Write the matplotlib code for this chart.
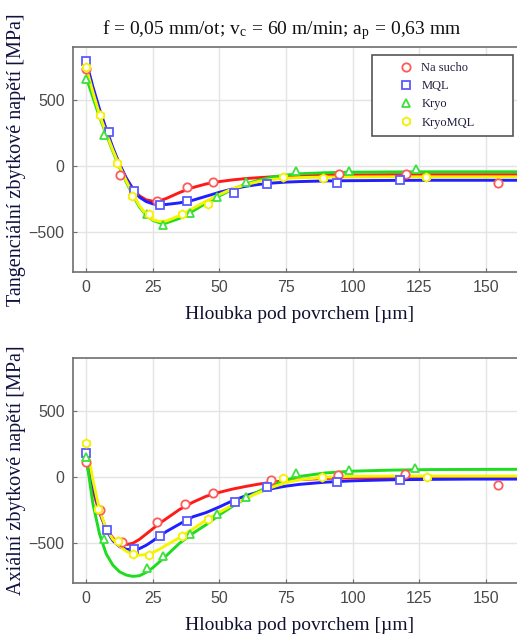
import matplotlib
matplotlib.use("Agg")
import matplotlib.pyplot as plt
from matplotlib.lines import Line2D

SERIES = ["Na sucho", "MQL", "Kryo", "KryoMQL"]
LINE_COLORS = ["#ff1a1a", "#1f1fff", "#1edc1e", "#f5f500"]
MARKER_COLORS = ["#ff5a5a", "#5a5aff", "#3ee03e", "#f5f000"]
MARKERS = ["o", "s", "^", "h"]

TITLE = "f = 0,05 mm/ot; v$_\\mathregular{c}$ = 60 m/min; a$_\\mathregular{p}$ = 0,63 mm"
XLABEL = "Hloubka pod povrchem [\u00b5m]"
YLABEL_TOP = "Tangenciální zbytkové napětí [MPa]"
YLABEL_BOTTOM = "Axiální zbytkové napětí [MPa]"

# depth grid of the fitted curves
FIT_DEPTH = [0, 2.5, 5, 7.5, 10, 12.5, 15, 17.5, 20, 22.5, 25, 27.5, 30, 35, 40, 45,
             50, 55, 60, 65, 70, 75, 80, 90, 100, 115, 130, 145, 162]

# --- tangential stress, fitted curves ---
tan_fit_dry = [740, 565, 400, 255, 125, 10, -90, -170, -225, -255, -265, -262, -245, -200, -162, -135,
               -117, -104, -94, -87, -81, -77, -73, -69, -67, -65, -65, -65, -65]
tan_fit_mql = [790, 600, 430, 280, 140, 15, -90, -175, -235, -268, -285, -292, -290, -278, -258, -228,
               -198, -172, -152, -138, -128, -121, -117, -112, -110, -108, -107, -107, -107]
tan_fit_kryo = [670, 520, 370, 240, 110, -10, -120, -220, -310, -370, -410, -428, -430, -395, -340, -280,
                -225, -175, -135, -105, -82, -68, -58, -50, -46, -44, -43, -43, -43]
tan_fit_kryomql = [745, 560, 390, 250, 120, 0, -110, -210, -300, -365, -405, -418, -415, -375, -320, -265,
                   -215, -170, -140, -115, -100, -92, -87, -83, -82, -81, -81, -81, -81]

# --- tangential stress, measured points ---
tan_x_dry = [0, 12.5, 26.5, 37.8, 47.7, 95, 120, 154.5]
tan_y_dry = [735, -70, -263, -158, -121, -63, -60, -127]
tan_x_mql = [0, 8.4, 17.75, 27.75, 37.8, 55.6, 67.7, 94, 117.7]
tan_y_mql = [796, 260, -186, -296, -260, -205, -137, -130, -107]
tan_x_kryo = [0, 6.5, 22.75, 29, 39, 49, 60, 78.8, 98.6, 123.8]
tan_y_kryo = [660, 235, -365, -446, -352, -232, -122, -36, -36, -25]
tan_x_kryomql = [0, 5.25, 11.5, 17.3, 23.4, 35.9, 45.9, 73.8, 88.7, 127.7]
tan_y_kryomql = [745, 388, 20, -228, -360, -361, -285, -81, -92, -81]

# --- axial stress, fitted curves ---
ax_fit_dry = [120, -100, -270, -390, -460, -500, -510, -500, -470, -430, -390, -350, -315, -245, -190, -145,
              -115, -90, -70, -52, -38, -27, -19, -10, -5, -3, -2, -2, -2]
ax_fit_mql = [180, -60, -260, -400, -480, -525, -545, -550, -540, -515, -482, -447, -412, -355, -300, -268,
              -225, -178, -140, -110, -86, -68, -55, -38, -28, -20, -17, -15, -15]
ax_fit_kryo = [150, -200, -430, -580, -665, -715, -740, -750, -745, -720, -685, -640, -595, -500, -425, -360,
               -285, -220, -160, -105, -58, -22, 5, 32, 45, 53, 57, 58, 59]
ax_fit_kryomql = [260, -20, -250, -390, -470, -520, -560, -580, -590, -585, -570, -545, -515, -458, -392, -325,
                  -265, -210, -160, -115, -75, -42, -20, 0, 6, 8, 8, 8, 8]

# --- axial stress, measured points ---
ax_x_dry = [0, 5, 13.5, 26.5, 37.1, 47.7, 69.5, 94.5, 119.6, 154.6]
ax_y_dry = [115, -250, -490, -341, -201, -120, -23, 15, 20, -61]
ax_x_mql = [0, 7.75, 17.75, 27.75, 38, 56, 67.75, 94, 117.75]
ax_y_mql = [185, -400, -545, -443, -328, -190, -74, -36, -23]
ax_x_kryo = [0, 6.5, 22.75, 29, 39, 49, 60, 78.75, 98.6, 123.6]
ax_y_kryo = [150, -465, -685, -593, -430, -278, -152, 28, 53, 66]
ax_x_kryomql = [0, 4.6, 12.1, 17.5, 23.75, 35.9, 45.9, 73.75, 88.4, 127.75]
ax_y_kryomql = [258, -240, -480, -581, -586, -443, -316, -10, 3, 3]


def draw_panel(ax, fits, points, ylabel):
    for fit, color in zip(fits, LINE_COLORS):
        ax.plot(FIT_DEPTH, fit, color=color, lw=2.1, zorder=2)
    for (xs, ys), color, marker in zip(points, MARKER_COLORS, MARKERS):
        ax.plot(xs, ys, linestyle="none", marker=marker, markersize=6, markerfacecolor="white",
                markeredgecolor=color, markeredgewidth=1.3, zorder=3)
    ax.set_xlim(-5, 165)
    ax.set_ylim(-800, 900)
    ax.set_xticks([0, 25, 50, 75, 100, 125, 150])
    ax.set_yticks([-500, 0, 500])
    ax.grid(True, color="#e4e4e4", lw=1.0)
    ax.set_axisbelow(True)
    for side in ["left", "bottom", "top"]:
        ax.spines[side].set_color("#6e6e6e")
        ax.spines[side].set_linewidth(1.2)
    ax.spines["right"].set_visible(False)
    ax.tick_params(direction="in", length=3, colors="#6e6e6e", labelcolor="#4a4a4a",
                   labelsize=11.5, pad=6)
    for lbl in ax.get_xticklabels() + ax.get_yticklabels():
        lbl.set_family("Liberation Sans")
    ax.set_xlabel(XLABEL, family="Liberation Serif", fontsize=14, color="#101030", labelpad=8)
    ax.set_ylabel(ylabel, family="Liberation Serif", fontsize=14.5, color="#101040", labelpad=2)


plt.rcParams["mathtext.fontset"] = "stix"

fig = plt.figure(figsize=(5.17, 6.41), dpi=100)
ax_top = fig.add_axes([0.141, 0.5757, 0.876, 0.351])
ax_bot = fig.add_axes([0.141, 0.0905, 0.876, 0.351])

draw_panel(ax_top,
           [tan_fit_dry, tan_fit_mql, tan_fit_kryo, tan_fit_kryomql],
           [(tan_x_dry, tan_y_dry), (tan_x_mql, tan_y_mql),
            (tan_x_kryo, tan_y_kryo), (tan_x_kryomql, tan_y_kryomql)],
           YLABEL_TOP)
draw_panel(ax_bot,
           [ax_fit_dry, ax_fit_mql, ax_fit_kryo, ax_fit_kryomql],
           [(ax_x_dry, ax_y_dry), (ax_x_mql, ax_y_mql),
            (ax_x_kryo, ax_y_kryo), (ax_x_kryomql, ax_y_kryomql)],
           YLABEL_BOTTOM)

ax_top.set_title(TITLE, family="Liberation Serif", fontsize=14, color="#101010", pad=9, x=0.46)

handles = [Line2D([], [], linestyle="none", marker=m, markersize=6, markerfacecolor="white",
                  markeredgecolor=c, markeredgewidth=1.3)
           for m, c in zip(MARKERS, MARKER_COLORS)]
leg = ax_top.legend(handles, SERIES, loc="upper left",
                    bbox_to_anchor=(372 / 517, 1 - 55 / 641, 141 / 517, 0.0),
                    bbox_transform=fig.transFigure, mode="expand", borderaxespad=0,
                    handlelength=4.4, handletextpad=-1.0, borderpad=0.55, labelspacing=0.5,
                    fancybox=False, framealpha=1,
                    prop={"family": "Liberation Serif", "size": 9})
leg.get_frame().set_edgecolor("#555555")
leg.get_frame().set_linewidth(1.2)
for txt in leg.get_texts():
    txt.set_color("#202040")

fig.savefig("out.png", dpi=100)
